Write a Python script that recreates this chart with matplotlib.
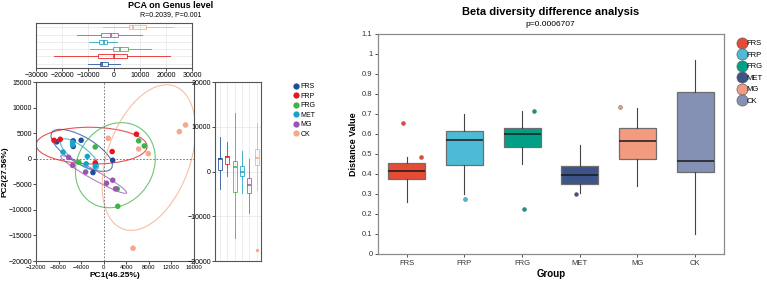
import numpy as np
import matplotlib.pyplot as plt
from matplotlib.patches import Ellipse
from matplotlib.lines import Line2D

plt.rcParams['font.family'] = ['Liberation Sans', 'DejaVu Sans']

# ---------------- data ----------------
groups = ['FRS', 'FRP', 'FRG', 'MET', 'MG', 'CK']

# PCA scores per group
pc1 = {
    'FRS': [-8300, -5400, -4000, -5400, 1600, -1900],
    'FRP': [-8800, -7700, 5800, 1500, -1500],
    'FRG': [-1500, -4400, 6200, 7200, 2400, 2500],
    'MET': [-7200, -5500, -5500, -2900, -3100, -1500],
    'MG':  [-6200, -5500, -3200, 500, 1600, 2100],
    'CK':  [800, 6200, 7900, 13400, 14500, 5200],
}
pc2 = {
    'FRS': [3300, 3500, 3600, 2400, -300, -2700],
    'FRP': [3600, 3800, 4800, 1400, -800],
    'FRG': [2300, -700, 3500, 2500, -5900, -9300],
    'MET': [1300, 3200, 2700, 450, -1000, -1500],
    'MG':  [250, -1300, -2600, -4800, -4200, -5900],
    'CK':  [4000, 1900, 1000, 5300, 6600, -17500],
}

# marginal boxplots: (whislo, q1, med, q3, whishi)
pc1_box = [(-10000, -5500, -4600, -2300, 2200),
           (-22900, -6000, 0, 5000, 21500),
           (-9400, -400, 2400, 5400, 14400),
           (-9600, -5800, -4000, -2700, 1300),
           (-14300, -4900, -1300, 1500, 10900),
           (-4200, 5600, 7300, 12500, 22700)]
pc2_box = [(-3800, 300, 2800, 3100, 7800),
           (-1000, 1600, 3300, 3500, 6500),
           (-14900, -4500, 900, 2400, 13000),
           (-4700, -1000, 0, 1300, 4600),
           (-9200, -4700, -3000, -1500, 2800),
           (-4100, 1400, 3100, 5000, 10800)]
pc2_fliers = [[], [], [], [], [], [-17500]]

# beta diversity boxplot
beta_box = [(0.262, 0.373, 0.415, 0.456, 0.487),
            (0.300, 0.447, 0.572, 0.613, 0.698),
            (0.450, 0.537, 0.600, 0.628, 0.715),
            (0.303, 0.348, 0.393, 0.438, 0.545),
            (0.340, 0.475, 0.565, 0.628, 0.728),
            (0.100, 0.410, 0.465, 0.808, 0.970)]
beta_fliers = [[0.657, 0.487], [0.275], [0.715, 0.225], [0.300], [0.733], []]
flier_shift = [[-0.06, 0.24], [0.01], [0.2, 0.03], [-0.07], [-0.3], []]

pca_colors = ['#1d4e9b', '#e8161d', '#3cb44a', '#1ba3c6', '#9b55b1', '#f7a889']
beta_colors = ['#e64b35', '#4dbbd5', '#00a087', '#3c5488', '#f39b7f', '#8491b4']


def mk_stats(rows, fliers=None):
    out = []
    for i, r in enumerate(rows):
        out.append(dict(whislo=r[0], q1=r[1], med=r[2], q3=r[3], whishi=r[4],
                        fliers=fliers[i] if fliers else []))
    return out


def conf_ellipse(ax, x, y, color, level=0.72):
    x = np.asarray(x, float)
    y = np.asarray(y, float)
    cov = np.cov(x, y)
    vals, vecs = np.linalg.eigh(cov)
    order = vals.argsort()[::-1]
    vals, vecs = vals[order], vecs[:, order]
    angle = np.degrees(np.arctan2(vecs[1, 0], vecs[0, 0]))
    k = np.sqrt(-2 * np.log(1 - level))
    w, h = 2 * k * np.sqrt(vals)
    ax.add_patch(Ellipse((x.mean(), y.mean()), w, h, angle=angle,
                         fill=False, edgecolor=color, lw=0.8, alpha=0.75))


fig = plt.figure(figsize=(7.67, 2.83), dpi=100)
tick_fs = 5
frame_c = '#555555'

# ---------------- PCA: top marginal ----------------
ax_top = fig.add_axes([0.0469, 0.7597, 0.2034, 0.159])
bp = ax_top.bxp(mk_stats(pc1_box), positions=range(1, 7), orientation='horizontal',
                widths=0.55, showfliers=False, patch_artist=True)
for i, c in enumerate(pca_colors):
    bp['boxes'][i].set(facecolor='none', edgecolor=c, lw=0.7, alpha=0.8)
    bp['medians'][i].set(color=c, lw=1.1)
    for j in (2 * i, 2 * i + 1):
        bp['whiskers'][j].set(color=c, lw=0.7, alpha=0.8)
        bp['caps'][j].set(visible=False)
ax_top.set_xlim(-30000, 30000)
ax_top.set_ylim(0.4, 6.6)
ax_top.set_xticks(np.arange(-30000, 30001, 10000))
ax_top.set_yticks(range(1, 7))
ax_top.set_yticklabels([])
ax_top.tick_params(axis='y', length=0)
ax_top.tick_params(axis='x', labelsize=tick_fs, length=2, width=0.5, pad=1)
ax_top.grid(True, color='#e6e6e6', lw=0.5)
ax_top.set_axisbelow(True)
for s in ax_top.spines.values():
    s.set_color(frame_c)
    s.set_linewidth(0.8)

fig.text(0.222, 0.982, 'PCA on Genus level', ha='center', va='center',
         fontsize=6.5, fontweight='bold')
fig.text(0.222, 0.947, 'R=0.2039, P=0.001', ha='center', va='center', fontsize=5)

# ---------------- PCA: scatter ----------------
ax_sc = fig.add_axes([0.0469, 0.0777, 0.206, 0.6325])
for g, c in zip(groups, pca_colors):
    conf_ellipse(ax_sc, pc1[g], pc2[g], c)
    ax_sc.scatter(pc1[g], pc2[g], s=16, color=c, edgecolors='none', zorder=3)
ax_sc.axvline(0, color='#666666', ls=(0, (2, 2)), lw=0.6)
ax_sc.axhline(0, color='#666666', ls=(0, (2, 2)), lw=0.6)
ax_sc.set_xlim(-12000, 16000)
ax_sc.set_ylim(-20000, 15000)
ax_sc.set_xticks(np.arange(-12000, 16001, 4000))
ax_sc.set_yticks(np.arange(-20000, 15001, 5000))
ax_sc.tick_params(labelsize=tick_fs, length=2, width=0.5, pad=1)
ax_sc.tick_params(axis='x', labelsize=4.3)
ax_sc.set_xlabel('PC1(46.25%)', fontsize=6, fontweight='bold', labelpad=1)
ax_sc.set_ylabel('PC2(27.56%)', fontsize=6, fontweight='bold', labelpad=0)
for s in ax_sc.spines.values():
    s.set_color(frame_c)
    s.set_linewidth(0.8)

# ---------------- PCA: side marginal ----------------
ax_sd = fig.add_axes([0.2803, 0.0777, 0.06, 0.6325])
bp = ax_sd.bxp(mk_stats(pc2_box), positions=range(1, 7), widths=0.55,
               showfliers=False, patch_artist=True)
for i, c in enumerate(pca_colors):
    bp['boxes'][i].set(facecolor='none', edgecolor=c, lw=0.7, alpha=0.8)
    bp['medians'][i].set(color=c, lw=1.1)
    for j in (2 * i, 2 * i + 1):
        bp['whiskers'][j].set(color=c, lw=0.7, alpha=0.8)
        bp['caps'][j].set(visible=False)
    if pc2_fliers[i]:
        ax_sd.scatter([i + 1] * len(pc2_fliers[i]), pc2_fliers[i], s=2, color=c)
ax_sd.set_xlim(0.3, 6.6)
ax_sd.set_ylim(-20000, 20000)
ax_sd.set_xticks(range(1, 7))
ax_sd.set_xticklabels([])
ax_sd.tick_params(axis='x', length=0)
ax_sd.set_yticks(np.arange(-20000, 20001, 10000))
ax_sd.tick_params(axis='y', labelsize=tick_fs, length=2, width=0.5, pad=1)
ax_sd.grid(True, color='#e6e6e6', lw=0.5)
ax_sd.set_axisbelow(True)
for s in ax_sd.spines.values():
    s.set_color(frame_c)
    s.set_linewidth(0.8)

h_left = [Line2D([], [], marker='o', ls='none', markersize=4.5, color=c,
                 markeredgewidth=0) for c in pca_colors]
fig.legend(h_left, groups, loc='upper left', bbox_to_anchor=(0.378, 0.715),
           frameon=False, fontsize=5, handletextpad=0.1, labelspacing=0.35,
           borderaxespad=0, handlelength=1.0)

# ---------------- Beta diversity ----------------
ax_b = fig.add_axes([0.4928, 0.1025, 0.4511, 0.7774])
bp = ax_b.bxp(mk_stats(beta_box), positions=range(1, 7), widths=0.64,
              showfliers=False, patch_artist=True)
for i, c in enumerate(beta_colors):
    bp['boxes'][i].set(facecolor=c, edgecolor='#6e6e6e', lw=0.9)
    bp['medians'][i].set(color='#1a1a1a', lw=1.1)
    for j in (2 * i, 2 * i + 1):
        bp['whiskers'][j].set(color='#444444', lw=0.8)
        bp['caps'][j].set(visible=False)
    for v, dx in zip(beta_fliers[i], flier_shift[i]):
        ax_b.scatter(i + 1 + dx, v, s=8, color=c, edgecolors='#555555',
                     linewidths=0.3, zorder=3)
ax_b.set_xlim(0.5, 6.5)
ax_b.set_ylim(0, 1.1)
ax_b.set_yticks(np.arange(0, 1.11, 0.1))
ax_b.set_yticklabels(['0', '0.1', '0.2', '0.3', '0.4', '0.5', '0.6', '0.7',
                      '0.8', '0.9', '1', '1.1'])
ax_b.set_xticks(range(1, 7))
ax_b.set_xticklabels(groups)
ax_b.tick_params(labelsize=5.5, length=2.5, width=0.6, pad=1.5, colors='#333333')
ax_b.set_xlabel('Group', fontsize=7, fontweight='bold', labelpad=2)
ax_b.set_ylabel('Distance Value', fontsize=6.5, fontweight='bold', labelpad=3)
for s in ax_b.spines.values():
    s.set_color('#8c8c8c')
    s.set_linewidth(0.9)
ax_b.set_title('Beta diversity difference analysis', fontsize=8,
               fontweight='bold', pad=14)
fig.text(0.718, 0.915, 'p=0.0006707', ha='center', va='center', fontsize=6)

h_right = [Line2D([], [], marker='o', ls='none', markersize=8, markerfacecolor=c,
                  markeredgecolor='#666666', markeredgewidth=0.5) for c in beta_colors]
fig.legend(h_right, groups, loc='upper left', bbox_to_anchor=(0.958, 0.87),
           frameon=False, fontsize=5.5, handletextpad=0.1, labelspacing=0.55,
           borderaxespad=0, handlelength=1.0)

fig.savefig('out.png', dpi=100)
